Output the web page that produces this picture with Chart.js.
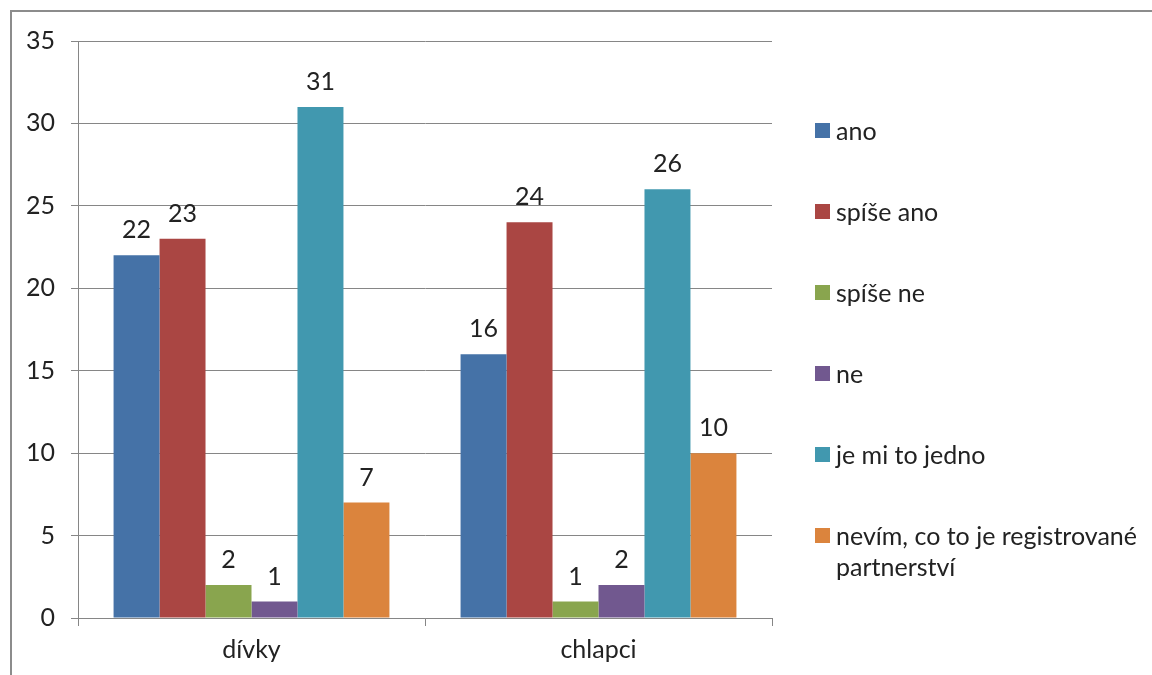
<!DOCTYPE html>
<html lang="cs">
<head>
    <meta charset="UTF-8">
    <title>Registrované partnerství</title>
    <script src="https://cdn.jsdelivr.net/npm/chart.js"></script>
    <style>
        body {
            margin: 0;
            padding: 0;
            background: #fff;
            font-family: Lato, "Open Sans", sans-serif;
        }
        .wrap {
            position: relative;
            width: 1152px;
            height: 675px;
            overflow: hidden;
        }
        .frame {
            position: absolute;
            left: 10px;
            top: 10px;
            width: 1200px;
            height: 700px;
            border-left: 2px solid #8c8c8c;
            border-top: 2px solid #8c8c8c;
        }
        #chart {
            position: absolute;
            left: 0;
            top: 0;
        }
        /* legend on the right */
        #legend {
            position: absolute;
            left: 815px;
            top: 0;
        }
        .legend-item {
            position: absolute;
            left: 0;
            width: 330px;
            display: flex;
            align-items: flex-start;
            font-size: 25px;
            line-height: 31px;
            color: #222;
        }
        .legend-box {
            flex: 0 0 15px;
            width: 15px;
            height: 15px;
            margin-top: 8px;
            margin-right: 6px;
        }
    </style>
</head>
<body>
<div class="wrap">
    <div class="frame"></div>
    <canvas id="chart" width="1152" height="675"></canvas>
    <div id="legend"></div>
</div>

<script>
    // data
    const categories = ['dívky', 'chlapci'];
    const seriesNames = ['ano', 'spíše ano', 'spíše ne', 'ne', 'je mi to jedno', 'nevím, co to je registrované partnerství'];
    const seriesColors = ['#4572A7', '#AA4643', '#89A54E', '#71588F', '#4198AF', '#DB843D'];
    const ano = [22, 16];
    const spiseAno = [23, 24];
    const spiseNe = [2, 1];
    const ne = [1, 2];
    const jeMiToJedno = [31, 26];
    const nevim = [7, 10];
    const yTicks = [0, 5, 10, 15, 20, 25, 30, 35];

    const seriesValues = [ano, spiseAno, spiseNe, ne, jeMiToJedno, nevim];

    // value labels above bars
    const valueLabels = {
        id: 'valueLabels',
        afterDatasetsDraw(chart) {
            const ctx = chart.ctx;
            ctx.save();
            ctx.font = '25px Lato, "Open Sans", sans-serif';
            ctx.fillStyle = '#222';
            ctx.textAlign = 'center';
            ctx.textBaseline = 'alphabetic';
            chart.data.datasets.forEach((ds, i) => {
                chart.getDatasetMeta(i).data.forEach((bar, j) => {
                    ctx.fillText(ds.data[j], bar.x, bar.y - 17);
                });
            });
            ctx.restore();
        }
    };

    const ctx = document.getElementById('chart').getContext('2d');
    const chart = new Chart(ctx, {
        type: 'bar',
        data: {
            labels: categories,
            datasets: seriesNames.map((name, i) => ({
                label: name,
                data: seriesValues[i],
                backgroundColor: seriesColors[i],
                borderWidth: 0,
                barPercentage: 1,
                categoryPercentage: 0.795
            }))
        },
        options: {
            responsive: false,
            animation: false,
            layout: {
                padding: { left: 10, top: 41, right: 380, bottom: 0 }
            },
            plugins: {
                legend: { display: false },
                tooltip: { enabled: false }
            },
            scales: {
                y: {
                    min: 0,
                    max: 35,
                    afterBuildTicks: s => { s.ticks = yTicks.map(v => ({ value: v })); },
                    afterFit: s => { s.width = 68; },
                    grid: {
                        color: '#868686',
                        lineWidth: 1,
                        tickLength: 7
                    },
                    border: { display: true, color: '#868686' },
                    ticks: {
                        color: '#222',
                        font: { family: 'Lato', size: 25 },
                        padding: 16
                    }
                },
                x: {
                    afterFit: s => { s.height = 57; },
                    grid: {
                        offset: true,
                        drawOnChartArea: false,
                        color: '#868686',
                        tickLength: 8
                    },
                    border: { display: true, color: '#868686' },
                    ticks: {
                        color: '#222',
                        font: { family: 'Lato', size: 25 },
                        padding: 9
                    }
                }
            }
        },
        plugins: [valueLabels]
    });

    // html legend with wide spacing like the original
    const legend = document.getElementById('legend');
    seriesNames.forEach((name, i) => {
        const item = document.createElement('div');
        item.className = 'legend-item';
        item.style.top = (115 + i * 81) + 'px';
        const box = document.createElement('div');
        box.className = 'legend-box';
        box.style.backgroundColor = seriesColors[i];
        const text = document.createElement('span');
        text.textContent = name;
        item.appendChild(box);
        item.appendChild(text);
        legend.appendChild(item);
    });
</script>
</body>
</html>
